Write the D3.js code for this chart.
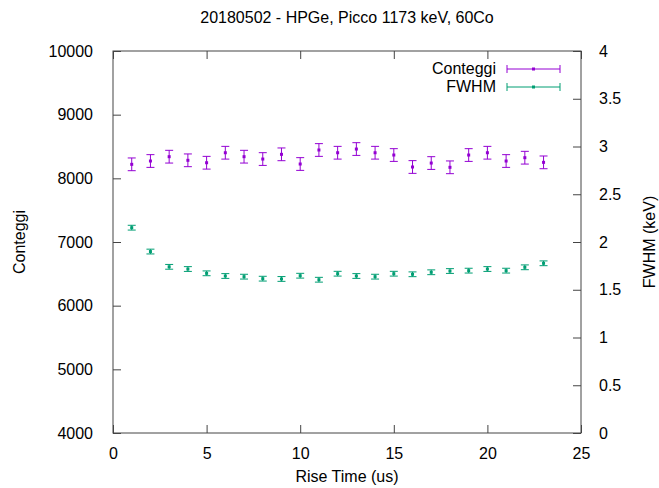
<!DOCTYPE html>
<html>
<head>
<meta charset="utf-8">
<script src="https://cdn.jsdelivr.net/npm/d3@7"></script>
<style>
  body { margin: 0; background: #fff; }
  svg { font-family: "Liberation Sans", Arial, sans-serif; }
</style>
</head>
<body>
<div id="chart"></div>
<script>
// Rise time scan, HPGe 1173 keV peak

const riseTime = [1, 2, 3, 4, 5, 6, 7, 8, 9, 10, 11, 12, 13, 14, 15, 16, 17, 18, 19, 20, 21, 22, 23];
const conteggi = [8220, 8272, 8340, 8283, 8245, 8402, 8340, 8303, 8377, 8225, 8445, 8402,
  8460, 8402, 8366, 8178, 8240, 8173, 8366, 8402, 8272, 8324, 8251];
const conteggiErr = [100, 100, 100, 100, 100, 100, 100, 100, 100, 100, 100, 100,
  100, 100, 100, 100, 100, 100, 100, 100, 100, 100, 100];
const fwhm = [2.15, 1.90, 1.74, 1.717, 1.672, 1.644, 1.637, 1.616, 1.613, 1.647, 1.605, 1.668,
  1.644, 1.637, 1.668, 1.662, 1.683, 1.696, 1.70, 1.717, 1.70, 1.735, 1.777];
const fwhmErr = [0.025, 0.025, 0.025, 0.025, 0.025, 0.025, 0.025, 0.025, 0.025, 0.025, 0.025, 0.025,
  0.025, 0.025, 0.025, 0.025, 0.025, 0.025, 0.025, 0.025, 0.025, 0.025, 0.025];

const xTicks = [0, 5, 10, 15, 20, 25];
const yTicks = [4000, 5000, 6000, 7000, 8000, 9000, 10000];
const y2Ticks = [0, 0.5, 1, 1.5, 2, 2.5, 3, 3.5, 4];

const title = '20180502 - HPGe, Picco 1173 keV, 60Co';
const seriesNames = ['Conteggi', 'FWHM'];
const colors = ['#9400d3', '#009e73'];

const width = 659;
const height = 488;
const margin = { top: 51, right: 78, bottom: 55, left: 113 };

const svg = d3.select('#chart')
  .append('svg')
  .attr('width', width)
  .attr('height', height);

const x = d3.scaleLinear().domain([0, 25]).range([margin.left, width - margin.right]);
const y = d3.scaleLinear().domain([4000, 10000]).range([height - margin.bottom, margin.top]);
const y2 = d3.scaleLinear().domain([0, 4]).range([height - margin.bottom, margin.top]);

const tickLen = 8;
const fontSize = 16;

// axes (ticks inward, gnuplot style)
svg.append('g')
  .attr('transform', `translate(0,${y.range()[0]})`)
  .call(d3.axisBottom(x).tickValues(xTicks).tickSize(-tickLen).tickPadding(tickLen + 7).tickFormat(d3.format('d')))
  .call(g => g.select('.domain').remove());

svg.append('g')
  .attr('transform', `translate(0,${y.range()[1]})`)
  .call(d3.axisTop(x).tickValues(xTicks).tickSize(-tickLen).tickFormat(''))
  .call(g => g.select('.domain').remove());

svg.append('g')
  .attr('transform', `translate(${x.range()[0]},0)`)
  .call(d3.axisLeft(y).tickValues(yTicks).tickSize(-tickLen).tickPadding(tickLen + 12).tickFormat(d3.format('d')))
  .call(g => g.select('.domain').remove());

svg.append('g')
  .attr('transform', `translate(${x.range()[1]},0)`)
  .call(d3.axisRight(y2).tickValues(y2Ticks).tickSize(-tickLen).tickPadding(tickLen + 10).tickFormat(d3.format('')))
  .call(g => g.select('.domain').remove());

svg.selectAll('.tick text')
  .attr('font-size', fontSize)
  .attr('font-family', '"Liberation Sans", Arial, sans-serif')
  .attr('fill', '#000');
svg.selectAll('.tick line').attr('stroke', '#444');

// border
svg.append('rect')
  .attr('x', x.range()[0])
  .attr('y', y.range()[1])
  .attr('width', x.range()[1] - x.range()[0])
  .attr('height', y.range()[0] - y.range()[1])
  .attr('fill', 'none')
  .attr('stroke', '#444')
  .attr('stroke-width', 1);

// labels
svg.append('text')
  .attr('x', (x.range()[0] + x.range()[1]) / 2)
  .attr('y', 23)
  .attr('text-anchor', 'middle')
  .attr('font-size', fontSize)
  .text(title);

svg.append('text')
  .attr('x', (x.range()[0] + x.range()[1]) / 2)
  .attr('y', 482)
  .attr('text-anchor', 'middle')
  .attr('font-size', fontSize)
  .text('Rise Time (us)');

svg.append('text')
  .attr('transform', `translate(25,${(y.range()[0] + y.range()[1]) / 2}) rotate(-90)`)
  .attr('text-anchor', 'middle')
  .attr('font-size', fontSize)
  .text('Conteggi');

svg.append('text')
  .attr('transform', `translate(655,${(y.range()[0] + y.range()[1]) / 2}) rotate(-90)`)
  .attr('text-anchor', 'middle')
  .attr('font-size', fontSize)
  .text('FWHM (keV)');

// error bar series
const cap = 4;
function drawSeries(values, errs, scale, color) {
  const rows = riseTime.map((t, i) => ({ t, v: values[i], e: errs[i] }));
  const g = svg.append('g').attr('stroke', color).attr('fill', color);

  g.selectAll('.bar')
    .data(rows)
    .join('line')
    .attr('x1', d => x(d.t)).attr('x2', d => x(d.t))
    .attr('y1', d => scale(d.v - d.e)).attr('y2', d => scale(d.v + d.e))
    .attr('stroke-width', 1);

  g.selectAll('.capTop')
    .data(rows)
    .join('line')
    .attr('x1', d => x(d.t) - cap).attr('x2', d => x(d.t) + cap)
    .attr('y1', d => scale(d.v + d.e)).attr('y2', d => scale(d.v + d.e))
    .attr('stroke-width', 1);

  g.selectAll('.capBot')
    .data(rows)
    .join('line')
    .attr('x1', d => x(d.t) - cap).attr('x2', d => x(d.t) + cap)
    .attr('y1', d => scale(d.v - d.e)).attr('y2', d => scale(d.v - d.e))
    .attr('stroke-width', 1);

  g.selectAll('.pt')
    .data(rows)
    .join('rect')
    .attr('x', d => x(d.t) - 1.5)
    .attr('y', d => scale(d.v) - 1.5)
    .attr('width', 3)
    .attr('height', 3)
    .attr('stroke', 'none');
}

drawSeries(conteggi, conteggiErr, y, colors[0]);
drawSeries(fwhm, fwhmErr, y2, colors[1]);

// legend
const legend = svg.selectAll('.legend')
  .data(seriesNames)
  .join('g')
  .attr('class', 'legend')
  .attr('transform', (d, i) => `translate(0,${69 + i * 18})`);

legend.append('text')
  .attr('x', 496)
  .attr('y', 5)
  .attr('text-anchor', 'end')
  .attr('font-size', fontSize)
  .attr('fill', '#000')
  .text(d => d);

legend.each(function (d, i) {
  const g = d3.select(this);
  g.append('line').attr('x1', 507).attr('x2', 560).attr('y1', 0).attr('y2', 0).attr('stroke', colors[i]);
  g.append('line').attr('x1', 507).attr('x2', 507).attr('y1', -cap).attr('y2', cap).attr('stroke', colors[i]);
  g.append('line').attr('x1', 560).attr('x2', 560).attr('y1', -cap).attr('y2', cap).attr('stroke', colors[i]);
  g.append('rect').attr('x', 532).attr('y', -1.5).attr('width', 3).attr('height', 3)
    .attr('fill', colors[i]);
});
</script>
</body>
</html>
